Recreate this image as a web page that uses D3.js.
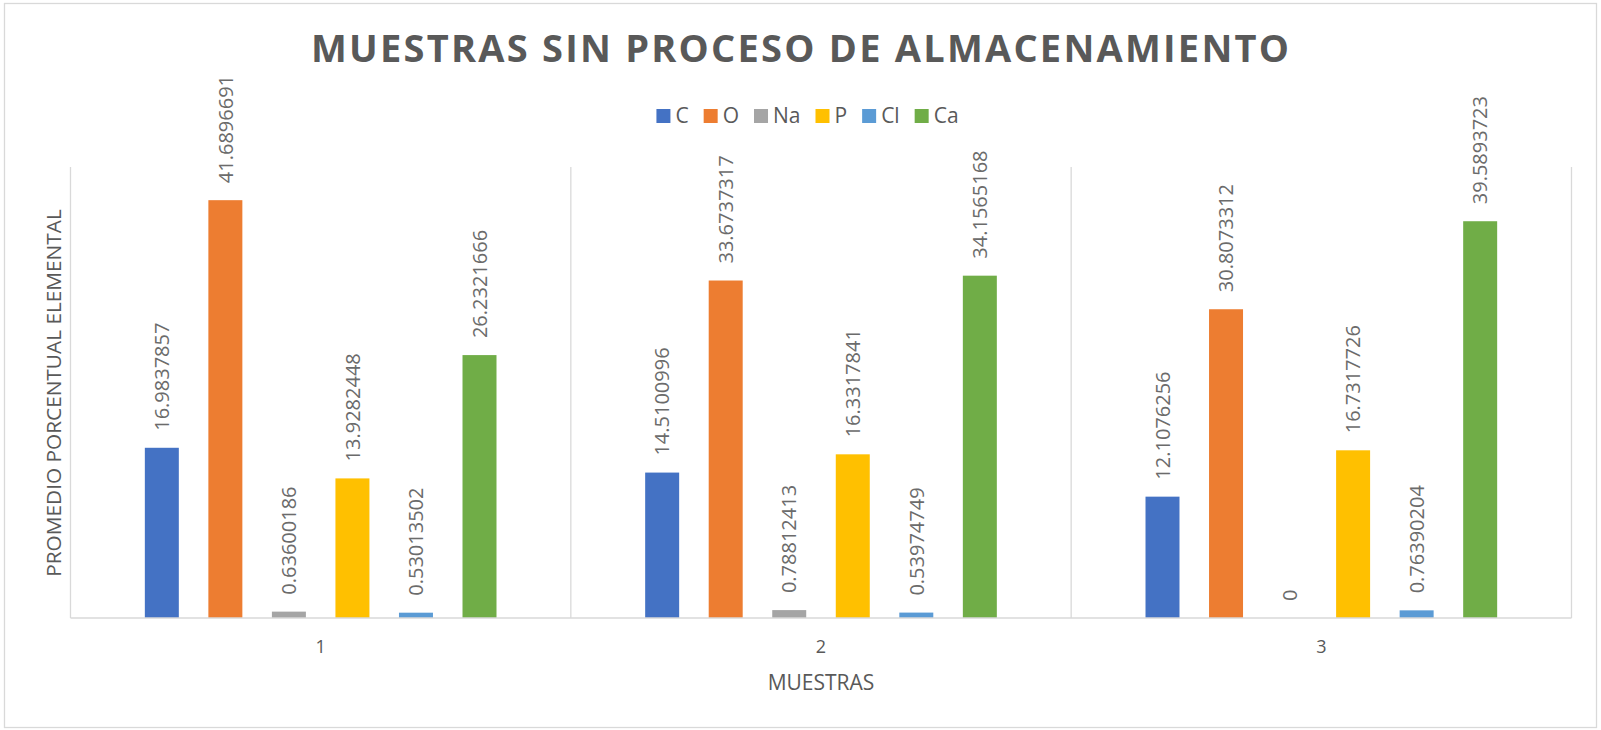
<!DOCTYPE html>
<html>
<head>
<meta charset="utf-8">
<script src="https://cdn.jsdelivr.net/npm/d3@7"></script>
<style>
  body { margin: 0; background: #fff; }
  text { font-family: "Open Sans", sans-serif; fill: #595959; }
</style>
</head>
<body>
<script>
var muestras = ['1', '2', '3'];
var elementos = ['C', 'O', 'Na', 'P', 'Cl', 'Ca'];
var colores = ['#4472C4', '#ED7D31', '#A5A5A5', '#FFC000', '#5B9BD5', '#70AD47'];

// valores por elemento, uno por muestra
var valC  = [16.9837857, 14.5100996, 12.1076256];
var valO  = [41.6896691, 33.6737317, 30.8073312];
var valNa = [0.63600186, 0.78812413, 0];
var valP  = [13.9282448, 16.3317841, 16.7317726];
var valCl = [0.53013502, 0.53974749, 0.76390204];
var valCa = [26.2321666, 34.1565168, 39.5893723];

var etiquetas = {
  C:  ['16.9837857', '14.5100996', '12.1076256'],
  O:  ['41.6896691', '33.6737317', '30.8073312'],
  Na: ['0.63600186', '0.78812413', '0'],
  P:  ['13.9282448', '16.3317841', '16.7317726'],
  Cl: ['0.53013502', '0.53974749', '0.76390204'],
  Ca: ['26.2321666', '34.1565168', '39.5893723']
};

var series = { C: valC, O: valO, Na: valNa, P: valP, Cl: valCl, Ca: valCa };

var width = 1601, height = 730;
var plotLeft = 70.5, plotRight = 1571.5, plotTop = 167, plotBottom = 618;

var svg = d3.select('body')
            .append('svg')
            .attr('width', width)
            .attr('height', height);

// borde del grafico
svg.append('rect')
    .attr('x', 4.5).attr('y', 3.5)
    .attr('width', 1592).attr('height', 724)
    .attr('fill', '#fff')
    .attr('stroke', '#d9d9d9')
    .attr('stroke-width', 1.3);

var x0 = d3.scaleBand()
            .domain(muestras)
            .range([plotLeft, plotRight]);

var x1 = d3.scaleBand()
            .domain(elementos)
            .range([0, x0.bandwidth()])
            .paddingInner(0.465)
            .paddingOuter(1.17);

var y = d3.scaleLinear()
            .domain([0, 45])
            .range([plotBottom, plotTop]);

var color = d3.scaleOrdinal()
            .domain(elementos)
            .range(colores);

// lineas verticales entre categorias
var bordes = muestras.map(function (m) { return x0(m); }).concat([plotRight]);
svg.selectAll('line.grid')
    .data(bordes)
    .enter()
    .append('line')
    .attr('class', 'grid')
    .attr('x1', function (d) { return d; })
    .attr('x2', function (d) { return d; })
    .attr('y1', plotTop)
    .attr('y2', plotBottom)
    .attr('stroke', '#d9d9d9')
    .attr('stroke-width', 1.3);

var datos = [];
muestras.forEach(function (m, i) {
    elementos.forEach(function (e) {
        datos.push({ muestra: m, elemento: e, valor: series[e][i], texto: etiquetas[e][i] });
    });
});

svg.selectAll('rect.bar')
    .data(datos)
    .enter()
    .append('rect')
    .attr('class', 'bar')
    .attr('x', function (d) { return x0(d.muestra) + x1(d.elemento); })
    .attr('y', function (d) { return y(d.valor); })
    .attr('width', x1.bandwidth())
    .attr('height', function (d) { return plotBottom - y(d.valor); })
    .attr('fill', function (d) { return color(d.elemento); });

// eje x
svg.append('line')
    .attr('x1', plotLeft).attr('x2', plotRight)
    .attr('y1', plotBottom).attr('y2', plotBottom)
    .attr('stroke', '#d9d9d9')
    .attr('stroke-width', 1.5);

// etiquetas de datos
svg.selectAll('text.lbl')
    .data(datos)
    .enter()
    .append('text')
    .attr('class', 'lbl')
    .attr('transform', function (d) {
        var cx = x0(d.muestra) + x1(d.elemento) + x1.bandwidth() / 2;
        return 'translate(' + cx + ',' + (y(d.valor) - 17) + ') rotate(-90)';
    })
    .attr('dy', '0.36em')
    .attr('font-size', 20)
    .style('fill', '#6b6b6b')
    .text(function (d) { return d.texto; });

// etiquetas de categorias
svg.selectAll('text.tick')
    .data(muestras)
    .enter()
    .append('text')
    .attr('class', 'tick')
    .attr('x', function (d) { return x0(d) + x0.bandwidth() / 2; })
    .attr('y', 653)
    .attr('text-anchor', 'middle')
    .attr('font-size', 18)
    .text(function (d) { return d; });

svg.append('text')
    .attr('x', (plotLeft + plotRight) / 2)
    .attr('y', 690)
    .attr('text-anchor', 'middle')
    .attr('font-size', 21)
    .text('MUESTRAS');

svg.append('text')
    .attr('transform', 'translate(61,393) rotate(-90)')
    .attr('text-anchor', 'middle')
    .attr('font-size', 20.8)
    .text('PROMEDIO PORCENTUAL ELEMENTAL');

// titulo
svg.append('text')
    .attr('x', 800)
    .attr('y', 62)
    .attr('text-anchor', 'middle')
    .attr('font-size', 38)
    .attr('font-weight', 'bold')
    .attr('textLength', 978)
    .attr('lengthAdjust', 'spacing')
    .text('MUESTRAS SIN PROCESO DE ALMACENAMIENTO');

// leyenda
var leyenda = svg.append('g');
var lx = 0;
elementos.forEach(function (e) {
    var g = leyenda.append('g').attr('transform', 'translate(' + lx + ',0)');
    g.append('rect')
        .attr('x', 0).attr('y', 109)
        .attr('width', 14).attr('height', 14)
        .attr('fill', color(e));
    var t = g.append('text')
        .attr('x', 19).attr('y', 122.5)
        .attr('font-size', 21)
        .text(e);
    lx += 19 + t.node().getComputedTextLength() + 15;
});
var total = lx - 15;
leyenda.attr('transform', 'translate(' + (807.5 - total / 2) + ',0)');
</script>
</body>
</html>
